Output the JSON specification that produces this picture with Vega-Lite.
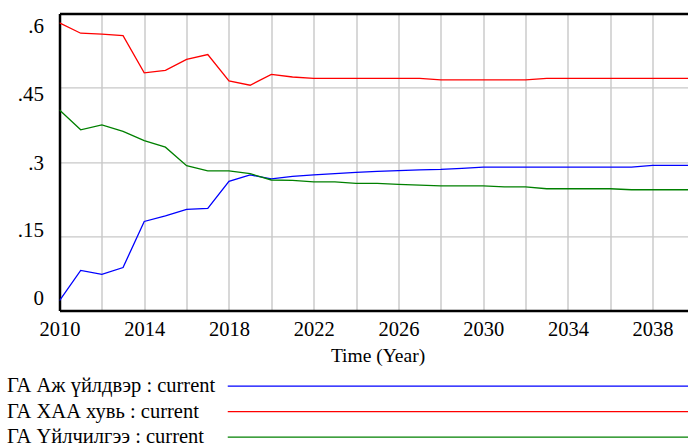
{
  "$schema": "https://vega.github.io/schema/vega-lite/v6.json",
  "width": 628.5,
  "height": 297.2,
  "autosize": {"type": "none"},
  "padding": {"left": 59.5, "top": 13.4, "right": 0, "bottom": 134.4},
  "background": "white",
  "config": {"view": {"stroke": null}, "font": "Liberation Serif"},
  "data": {"values": [
    {"year": 2010, "series": "ГА Аж үйлдвэр : current", "value": 0.020},
    {"year": 2011, "series": "ГА Аж үйлдвэр : current", "value": 0.081},
    {"year": 2012, "series": "ГА Аж үйлдвэр : current", "value": 0.073},
    {"year": 2013, "series": "ГА Аж үйлдвэр : current", "value": 0.087},
    {"year": 2014, "series": "ГА Аж үйлдвэр : current", "value": 0.180},
    {"year": 2015, "series": "ГА Аж үйлдвэр : current", "value": 0.191},
    {"year": 2016, "series": "ГА Аж үйлдвэр : current", "value": 0.2045},
    {"year": 2017, "series": "ГА Аж үйлдвэр : current", "value": 0.2065},
    {"year": 2018, "series": "ГА Аж үйлдвэр : current", "value": 0.261},
    {"year": 2019, "series": "ГА Аж үйлдвэр : current", "value": 0.274},
    {"year": 2020, "series": "ГА Аж үйлдвэр : current", "value": 0.266},
    {"year": 2021, "series": "ГА Аж үйлдвэр : current", "value": 0.271},
    {"year": 2022, "series": "ГА Аж үйлдвэр : current", "value": 0.274},
    {"year": 2023, "series": "ГА Аж үйлдвэр : current", "value": 0.2764},
    {"year": 2024, "series": "ГА Аж үйлдвэр : current", "value": 0.279},
    {"year": 2025, "series": "ГА Аж үйлдвэр : current", "value": 0.281},
    {"year": 2026, "series": "ГА Аж үйлдвэр : current", "value": 0.2825},
    {"year": 2027, "series": "ГА Аж үйлдвэр : current", "value": 0.284},
    {"year": 2028, "series": "ГА Аж үйлдвэр : current", "value": 0.285},
    {"year": 2029, "series": "ГА Аж үйлдвэр : current", "value": 0.287},
    {"year": 2030, "series": "ГА Аж үйлдвэр : current", "value": 0.2896},
    {"year": 2031, "series": "ГА Аж үйлдвэр : current", "value": 0.2896},
    {"year": 2032, "series": "ГА Аж үйлдвэр : current", "value": 0.2896},
    {"year": 2033, "series": "ГА Аж үйлдвэр : current", "value": 0.2896},
    {"year": 2034, "series": "ГА Аж үйлдвэр : current", "value": 0.2896},
    {"year": 2035, "series": "ГА Аж үйлдвэр : current", "value": 0.2896},
    {"year": 2036, "series": "ГА Аж үйлдвэр : current", "value": 0.2896},
    {"year": 2037, "series": "ГА Аж үйлдвэр : current", "value": 0.2896},
    {"year": 2038, "series": "ГА Аж үйлдвэр : current", "value": 0.2933},
    {"year": 2039, "series": "ГА Аж үйлдвэр : current", "value": 0.2933},
    {"year": 2040, "series": "ГА Аж үйлдвэр : current", "value": 0.2933},
    {"year": 2010, "series": "ГА ХАА хувь : current", "value": 0.581},
    {"year": 2011, "series": "ГА ХАА хувь : current", "value": 0.560},
    {"year": 2012, "series": "ГА ХАА хувь : current", "value": 0.558},
    {"year": 2013, "series": "ГА ХАА хувь : current", "value": 0.555},
    {"year": 2014, "series": "ГА ХАА хувь : current", "value": 0.480},
    {"year": 2015, "series": "ГА ХАА хувь : current", "value": 0.485},
    {"year": 2016, "series": "ГА ХАА хувь : current", "value": 0.507},
    {"year": 2017, "series": "ГА ХАА хувь : current", "value": 0.517},
    {"year": 2018, "series": "ГА ХАА хувь : current", "value": 0.4636},
    {"year": 2019, "series": "ГА ХАА хувь : current", "value": 0.455},
    {"year": 2020, "series": "ГА ХАА хувь : current", "value": 0.477},
    {"year": 2021, "series": "ГА ХАА хувь : current", "value": 0.4716},
    {"year": 2022, "series": "ГА ХАА хувь : current", "value": 0.469},
    {"year": 2023, "series": "ГА ХАА хувь : current", "value": 0.469},
    {"year": 2024, "series": "ГА ХАА хувь : current", "value": 0.469},
    {"year": 2025, "series": "ГА ХАА хувь : current", "value": 0.469},
    {"year": 2026, "series": "ГА ХАА хувь : current", "value": 0.469},
    {"year": 2027, "series": "ГА ХАА хувь : current", "value": 0.469},
    {"year": 2028, "series": "ГА ХАА хувь : current", "value": 0.466},
    {"year": 2029, "series": "ГА ХАА хувь : current", "value": 0.466},
    {"year": 2030, "series": "ГА ХАА хувь : current", "value": 0.466},
    {"year": 2031, "series": "ГА ХАА хувь : current", "value": 0.466},
    {"year": 2032, "series": "ГА ХАА хувь : current", "value": 0.466},
    {"year": 2033, "series": "ГА ХАА хувь : current", "value": 0.469},
    {"year": 2034, "series": "ГА ХАА хувь : current", "value": 0.469},
    {"year": 2035, "series": "ГА ХАА хувь : current", "value": 0.469},
    {"year": 2036, "series": "ГА ХАА хувь : current", "value": 0.469},
    {"year": 2037, "series": "ГА ХАА хувь : current", "value": 0.469},
    {"year": 2038, "series": "ГА ХАА хувь : current", "value": 0.469},
    {"year": 2039, "series": "ГА ХАА хувь : current", "value": 0.469},
    {"year": 2040, "series": "ГА ХАА хувь : current", "value": 0.469},
    {"year": 2010, "series": "ГА Үйлчилгээ : current", "value": 0.405},
    {"year": 2011, "series": "ГА Үйлчилгээ : current", "value": 0.365},
    {"year": 2012, "series": "ГА Үйлчилгээ : current", "value": 0.375},
    {"year": 2013, "series": "ГА Үйлчилгээ : current", "value": 0.362},
    {"year": 2014, "series": "ГА Үйлчилгээ : current", "value": 0.343},
    {"year": 2015, "series": "ГА Үйлчилгээ : current", "value": 0.330},
    {"year": 2016, "series": "ГА Үйлчилгээ : current", "value": 0.2925},
    {"year": 2017, "series": "ГА Үйлчилгээ : current", "value": 0.282},
    {"year": 2018, "series": "ГА Үйлчилгээ : current", "value": 0.282},
    {"year": 2019, "series": "ГА Үйлчилгээ : current", "value": 0.2764},
    {"year": 2020, "series": "ГА Үйлчилгээ : current", "value": 0.2637},
    {"year": 2021, "series": "ГА Үйлчилгээ : current", "value": 0.263},
    {"year": 2022, "series": "ГА Үйлчилгээ : current", "value": 0.260},
    {"year": 2023, "series": "ГА Үйлчилгээ : current", "value": 0.260},
    {"year": 2024, "series": "ГА Үйлчилгээ : current", "value": 0.257},
    {"year": 2025, "series": "ГА Үйлчилгээ : current", "value": 0.257},
    {"year": 2026, "series": "ГА Үйлчилгээ : current", "value": 0.255},
    {"year": 2027, "series": "ГА Үйлчилгээ : current", "value": 0.2535},
    {"year": 2028, "series": "ГА Үйлчилгээ : current", "value": 0.2516},
    {"year": 2029, "series": "ГА Үйлчилгээ : current", "value": 0.2516},
    {"year": 2030, "series": "ГА Үйлчилгээ : current", "value": 0.2516},
    {"year": 2031, "series": "ГА Үйлчилгээ : current", "value": 0.2496},
    {"year": 2032, "series": "ГА Үйлчилгээ : current", "value": 0.2496},
    {"year": 2033, "series": "ГА Үйлчилгээ : current", "value": 0.246},
    {"year": 2034, "series": "ГА Үйлчилгээ : current", "value": 0.246},
    {"year": 2035, "series": "ГА Үйлчилгээ : current", "value": 0.246},
    {"year": 2036, "series": "ГА Үйлчилгээ : current", "value": 0.246},
    {"year": 2037, "series": "ГА Үйлчилгээ : current", "value": 0.244},
    {"year": 2038, "series": "ГА Үйлчилгээ : current", "value": 0.244},
    {"year": 2039, "series": "ГА Үйлчилгээ : current", "value": 0.244},
    {"year": 2040, "series": "ГА Үйлчилгээ : current", "value": 0.244}
  ]},
  "mark": {"type": "line", "strokeWidth": 1.3, "clip": true},
  "encoding": {
    "x": {
      "field": "year", "type": "quantitative",
      "scale": {"domain": [2010, 2039.67], "nice": false, "zero": false},
      "axis": {
        "values": [2010, 2012, 2014, 2016, 2018, 2020, 2022, 2024, 2026, 2028, 2030, 2032, 2034, 2036, 2038],
        "format": "d",
        "labelExpr": "(datum.value - 2010) % 4 === 0 ? datum.label : ''",
        "grid": true, "gridColor": "#c8c8c8", "gridWidth": 1.4,
        "domain": true, "domainColor": "black", "domainWidth": 2.5,
        "ticks": false, "tickSize": 0,
        "labelFont": "Liberation Serif", "labelFontSize": 20.5, "labelColor": "black",
        "labelPadding": 25, "labelBaseline": "alphabetic", "labelAlign": "center",
        "labelFlush": false, "labelOverlap": false, "labelBound": false,
        "title": "Time (Year)", "titleFont": "Liberation Serif", "titleFontSize": 19.5,
        "titleFontWeight": "normal", "titleColor": "black", "titleBaseline": "alphabetic",
        "titleX": 318, "titleY": 50.5, "titleAlign": "center"
      }
    },
    "y": {
      "field": "value", "type": "quantitative",
      "scale": {"domain": [0, 0.6], "nice": false},
      "axis": {
        "values": [0, 0.15, 0.3, 0.45, 0.6],
        "labelExpr": "datum.value === 0 ? '0' : replace(format(datum.value, '.2~f'), '0.', '.')",
        "grid": true,
        "gridColor": {"condition": {"test": "datum.value > 0.59", "value": "black"}, "value": "#c8c8c8"},
        "gridWidth": {"condition": {"test": "datum.value > 0.59", "value": 2.5}, "value": 1.4},
        "domain": true, "domainColor": "black", "domainWidth": 2.5,
        "ticks": false, "tickSize": 0,
        "labelFont": "Liberation Serif", "labelFontSize": 21, "labelColor": "black",
        "labelPadding": 16, "labelAlign": "right", "labelBaseline": "middle",
        "labelOffset": {"condition": [
          {"test": "datum.value > 0.59", "value": 13.5},
          {"test": "datum.value > 0.44", "value": 7},
          {"test": "datum.value > 0.29", "value": 1},
          {"test": "datum.value > 0.14", "value": -6}
        ], "value": -12.5},
        "labelFlush": false, "labelOverlap": false, "labelBound": false,
        "title": null
      }
    },
    "color": {
      "field": "series", "type": "nominal",
      "scale": {
        "domain": ["ГА Аж үйлдвэр : current", "ГА ХАА хувь : current", "ГА Үйлчилгээ : current"],
        "range": ["#0000ff", "#ff0000", "#008000"]
      },
      "legend": {
        "orient": "none", "legendX": 158, "legendY": 362.5,
        "direction": "vertical", "title": null, "padding": 0,
        "symbolType": "M0,0H100", "symbolSize": 100, "symbolStrokeWidth": 1.3,
        "labelOffset": -231, "labelAlign": "left", "labelBaseline": "middle",
        "labelFont": "Liberation Serif", "labelFontSize": 20.5, "labelColor": "black",
        "labelLimit": 400, "rowPadding": 4.5
      }
    }
  }
}
